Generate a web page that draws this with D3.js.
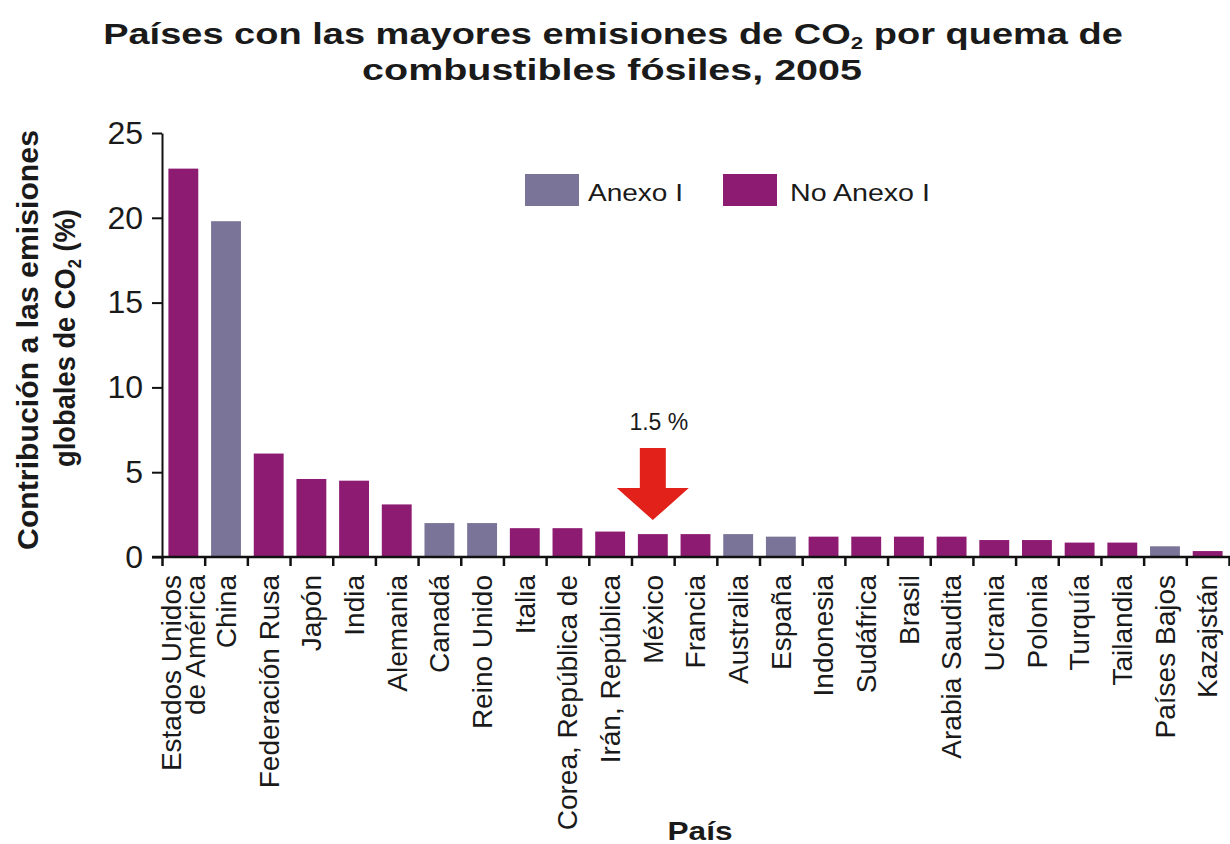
<!DOCTYPE html>
<html><head><meta charset="utf-8">
<script src="https://cdn.jsdelivr.net/npm/d3@7"></script>
<style>body{margin:0;background:#fff} svg{display:block} text{font-family:"Liberation Sans",Arial,sans-serif;fill:#1a1a1a}</style>
</head><body><svg id="c" width="1230" height="844"></svg>
<script>
const categories = ["Estados Unidos\nde América","China","Federación Rusa","Japón","India","Alemania","Canadá","Reino Unido","Italia","Corea, República de","Irán, República","México","Francia","Australia","España","Indonesia","Sudáfrica","Brasil","Arabia Saudita","Ucrania","Polonia","Turquía","Tailandia","Países Bajos","Kazajstán"];
const values = [22.9,19.8,6.1,4.6,4.5,3.1,2.0,2.0,1.7,1.7,1.5,1.35,1.35,1.35,1.2,1.2,1.2,1.2,1.2,1.0,1.0,0.85,0.85,0.63,0.35];
const groups = ["No Anexo I","Anexo I","No Anexo I","No Anexo I","No Anexo I","No Anexo I","Anexo I","Anexo I","No Anexo I","No Anexo I","No Anexo I","No Anexo I","No Anexo I","Anexo I","Anexo I","No Anexo I","No Anexo I","No Anexo I","No Anexo I","No Anexo I","No Anexo I","No Anexo I","No Anexo I","Anexo I","No Anexo I"];
const legendLabels = ["Anexo I","No Anexo I"];
const yTicks = [0,5,10,15,20,25];
const highlightCountry = "México";
const highlightLabel = "1.5 %";

const colors = {"Anexo I":"#7a7499","No Anexo I":"#8e1b72"};
const svg = d3.select("#c");
const pL = 162, pR = 1229, pT = 133, pB = 557;

const x = d3.scaleBand().domain(categories).range([pL,pR]).paddingInner(0.3).paddingOuter(0.15);
const y = d3.scaleLinear().domain([0,25]).range([pB,pT]);
const xi = d3.scaleLinear().domain([0,categories.length]).range([pL,pR]);

function fitH(g, w){ const bb=g.node().getBBox(); return w/bb.width; }

// bars
svg.append("g").selectAll("rect").data(categories).join("rect")
  .attr("x", d=>x(d)).attr("width", x.bandwidth())
  .attr("y", (d,i)=>y(values[i])).attr("height",(d,i)=>y(0)-y(values[i]))
  .attr("fill",(d,i)=>colors[groups[i]]);

// y axis
const ya = svg.append("g").attr("transform",`translate(${pL},0)`)
  .call(d3.axisLeft(y).tickValues(yTicks).tickSize(10).tickSizeOuter(0).tickPadding(9));
ya.selectAll("text").attr("font-size",32).attr("fill","#1a1a1a").style("font-family",'"Liberation Sans",Arial,sans-serif');
ya.selectAll("line,path").attr("stroke","#111").attr("stroke-width",2);

// x axis
const xa = svg.append("g").attr("transform",`translate(0,${pB})`)
  .call(d3.axisBottom(xi).tickValues(d3.range(categories.length+1)).tickFormat("").tickSize(9).tickSizeOuter(0));
xa.selectAll("line,path").attr("stroke","#111").attr("stroke-width",2.5);
xa.select("path").attr("d",`M${pL-10},0H${pR+2}`);

// x labels
const lab = svg.append("g").selectAll("g").data(categories).join("g")
  .attr("transform",d=>`translate(${x(d)+x.bandwidth()/2},575) rotate(-90)`);
lab.each(function(d){
  const lines=d.split("\n"); const n=lines.length;
  const t=d3.select(this).append("text").attr("text-anchor","end").attr("font-size",28);
  lines.forEach((l,k)=>t.append("tspan").attr("x",0).attr("y",0)
    .attr("dy",(0.35-(n-1)*0.43+k*0.86)+"em").text(l));
});

// title
const title1 = svg.append("g");
const t1 = title1.append("text").attr("text-anchor","middle").attr("font-size",29).attr("font-weight","bold");
t1.append("tspan").text("Países con las mayores emisiones de CO");
t1.append("tspan").attr("font-size",17).attr("dy",5).text("2");
t1.append("tspan").attr("dy",-5).text(" por quema de");
title1.attr("transform",`translate(613,44) scale(${fitH(title1,1020)},1)`);
const title2 = svg.append("g");
title2.append("text").attr("text-anchor","middle").attr("font-size",29).attr("font-weight","bold").text("combustibles fósiles, 2005");
title2.attr("transform",`translate(612,80) scale(${fitH(title2,500)},1)`);

// y label
const yl1 = svg.append("g");
yl1.append("text").attr("text-anchor","middle").attr("font-size",30).attr("font-weight","bold").text("Contribución a las emisiones");
yl1.attr("transform",`translate(38,340) rotate(-90) scale(${fitH(yl1,420)},1)`);
const yl2 = svg.append("g");
const y2t = yl2.append("text").attr("text-anchor","middle").attr("font-size",30).attr("font-weight","bold");
y2t.append("tspan").text("globales de CO");
y2t.append("tspan").attr("font-size",18).attr("dy",6).text("2");
y2t.append("tspan").attr("dy",-6).text(" (%)");
yl2.attr("transform",`translate(75,338) rotate(-90) scale(${fitH(yl2,258)},1)`);

// x title
const xt = svg.append("g");
xt.append("text").attr("text-anchor","middle").attr("font-size",25).attr("font-weight","bold").text("País");
xt.attr("transform",`translate(700,840) scale(${fitH(xt,65)},1)`);

// legend
const legX = [525,723], legTX=[588,790], legTW=[95,140];
legendLabels.forEach((l,i)=>{
  svg.append("rect").attr("x",legX[i]).attr("y",174).attr("width",54).attr("height",32).attr("fill",colors[l]);
  const g=svg.append("g");
  g.append("text").attr("font-size",24).text(l);
  g.attr("transform",`translate(${legTX[i]},201) scale(${fitH(g,legTW[i])},1)`);
});

// arrow
const hi = categories.indexOf(highlightCountry);
const ax = x(highlightCountry)+x.bandwidth()/2;
const tipY = y(values[hi]) - 14;
svg.append("path").attr("fill","#e2211b")
  .attr("d",`M${ax-13},${tipY-72}H${ax+13}V${tipY-32}H${ax+36}L${ax},${tipY}L${ax-36},${tipY-32}H${ax-13}Z`);
svg.append("text").attr("x",ax+6).attr("y",tipY-90).attr("text-anchor","middle").attr("font-size",23).text(highlightLabel);
</script></body></html>
